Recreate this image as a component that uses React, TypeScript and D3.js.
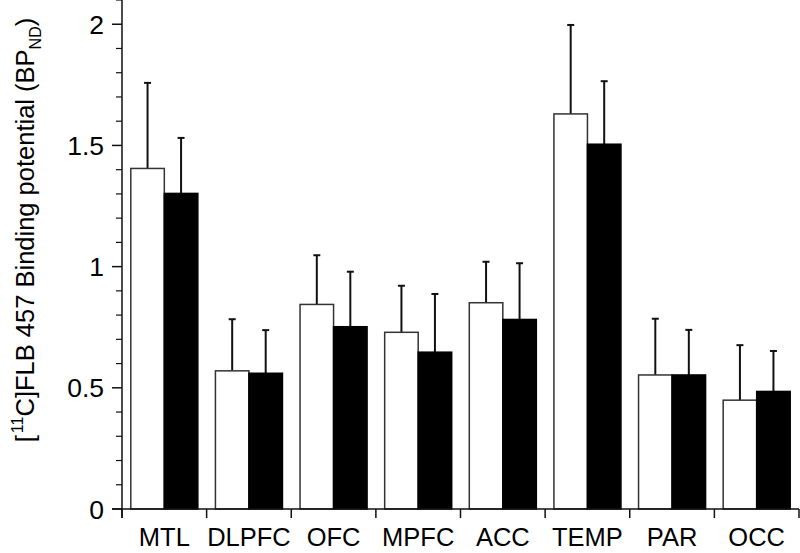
import React, { useRef, useEffect } from 'react';
import * as d3 from 'd3';

const regions = ['MTL', 'DLPFC', 'OFC', 'MPFC', 'ACC', 'TEMP', 'PAR', 'OCC'];
const groupA = [1.405, 0.570, 0.844, 0.729, 0.851, 1.630, 0.553, 0.449];
const groupAUpper = [1.758, 0.783, 1.047, 0.921, 1.020, 1.997, 0.785, 0.676];
const groupB = [1.302, 0.560, 0.752, 0.647, 0.782, 1.505, 0.553, 0.485];
const groupBUpper = [1.531, 0.738, 0.979, 0.887, 1.014, 1.765, 0.739, 0.652];
const majorTicks = [0, 0.5, 1, 1.5, 2];
const tickLabels = ['0', '0.5', '1', '1.5', '2'];

const FONT = 'Arial, "Liberation Sans", sans-serif';

const App: React.FC = () => {
  const svgRef = useRef<SVGSVGElement>(null);

  useEffect(() => {
    const svg = d3.select(svgRef.current);
    svg.selectAll('*').remove();

    const left = 122;
    const right = 799;
    const bottom = 509;

    const y = d3.scaleLinear().domain([0, 2.1]).range([bottom, 0]);

    const p = 0.208;
    const x0 = d3.scaleBand<string>()
      .domain(regions)
      .range([left, right])
      .paddingInner(p)
      .paddingOuter(p / 2);
    const x1 = d3.scaleBand<string>()
      .domain(['a', 'b'])
      .range([0, x0.bandwidth()]);

    const step = x0.step();
    const g = svg.append('g');

    // bars
    regions.forEach((r, i) => {
      const gx = x0(r)!;
      const series = [
        { key: 'a', v: groupA[i], up: groupAUpper[i] },
        { key: 'b', v: groupB[i], up: groupBUpper[i] },
      ];
      series.forEach((s) => {
        const bx = gx + x1(s.key)!;
        const cx = bx + x1.bandwidth() / 2;
        // error bar
        g.append('line')
          .attr('x1', cx).attr('x2', cx)
          .attr('y1', y(s.v)).attr('y2', y(s.up))
          .attr('stroke', '#111').attr('stroke-width', 2);
        g.append('line')
          .attr('x1', cx - 3.5).attr('x2', cx + 3.5)
          .attr('y1', y(s.up)).attr('y2', y(s.up))
          .attr('stroke', '#111').attr('stroke-width', 2);
        g.append('rect')
          .attr('x', bx)
          .attr('y', y(s.v))
          .attr('width', x1.bandwidth())
          .attr('height', bottom - y(s.v))
          .attr('fill', s.key === 'a' ? 'white' : 'black')
          .attr('stroke', s.key === 'a' ? '#333' : 'black')
          .attr('stroke-width', 1.5);
      });
    });

    // y axis
    g.append('line')
      .attr('x1', left).attr('x2', left)
      .attr('y1', 0).attr('y2', bottom + 9)
      .attr('stroke', '#111').attr('stroke-width', 1.5);
    const minor = d3.range(1, 22).map((k) => k / 10).filter((v) => Math.abs(v * 2 - Math.round(v * 2)) > 1e-6);
    g.selectAll('.minor')
      .data(minor)
      .join('line')
      .attr('x1', left - 6).attr('x2', left)
      .attr('y1', (d) => y(d)).attr('y2', (d) => y(d))
      .attr('stroke', '#111').attr('stroke-width', 1.2);
    g.selectAll('.major')
      .data(majorTicks)
      .join('line')
      .attr('x1', left - 10).attr('x2', left)
      .attr('y1', (d) => y(d)).attr('y2', (d) => y(d))
      .attr('stroke', '#111').attr('stroke-width', 1.5);
    g.selectAll('.ylab')
      .data(majorTicks)
      .join('text')
      .attr('x', left - 18)
      .attr('y', (d) => y(d))
      .attr('dy', '0.36em')
      .attr('text-anchor', 'end')
      .attr('font-family', FONT)
      .attr('font-size', 26.5)
      .text((d, i) => tickLabels[i]);

    // x axis
    g.append('line')
      .attr('x1', left - 10).attr('x2', right)
      .attr('y1', bottom).attr('y2', bottom)
      .attr('stroke', '#111').attr('stroke-width', 1.5);
    g.selectAll('.xtick')
      .data(d3.range(0, regions.length + 1))
      .join('line')
      .attr('x1', (d) => left + d * step).attr('x2', (d) => left + d * step)
      .attr('y1', bottom).attr('y2', bottom + 9)
      .attr('stroke', '#111').attr('stroke-width', 1.5);
    g.selectAll('.xlab')
      .data(regions)
      .join('text')
      .attr('x', (d) => x0(d)! + x0.bandwidth() / 2)
      .attr('y', 546)
      .attr('text-anchor', 'middle')
      .attr('font-family', FONT)
      .attr('font-size', 25.5)
      .text((d) => d);

    // y label
    const lab = g.append('text')
      .attr('transform', 'translate(34,230) rotate(-90)')
      .attr('text-anchor', 'middle')
      .attr('font-family', FONT)
      .attr('font-size', 25.5);
    lab.append('tspan').text('[');
    lab.append('tspan').attr('font-size', 16).attr('dx', 2).attr('dy', -11).text('11');
    lab.append('tspan').attr('dy', 11).text('C]FLB 457 Binding potential (BP');
    lab.append('tspan').attr('font-size', 16).attr('dy', 7).text('ND');
    lab.append('tspan').attr('dy', -7).text(')');
  }, []);

  return (
    <div style={{ position: 'absolute', left: 0, top: 0 }}>
      <svg ref={svgRef} width={800} height={553} style={{ display: 'block', background: 'white' }} />
    </div>
  );
};

export default App;
